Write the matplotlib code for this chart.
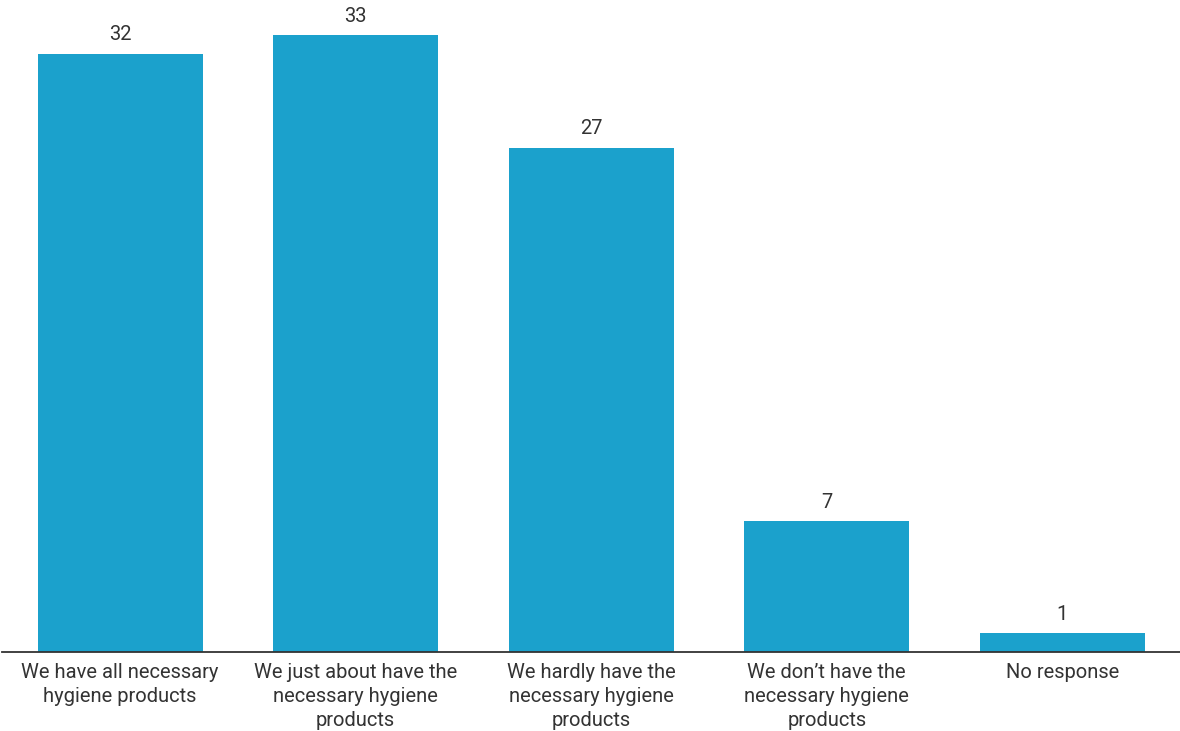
import matplotlib
matplotlib.use("Agg")
import matplotlib.pyplot as plt

plt.rcParams['font.family'] = ['Roboto', 'DejaVu Sans']

categories = [
    "We have all necessary\nhygiene products",
    "We just about have the\nnecessary hygiene\nproducts",
    "We hardly have the\nnecessary hygiene\nproducts",
    "We don\u2019t have the\nnecessary hygiene\nproducts",
    "No response",
]
values = [32, 33, 27, 7, 1]

bar_color = "#1ba1cc"
text_color = "#333333"

fig = plt.figure(figsize=(11.8, 7.31), dpi=100)
ax = fig.add_axes([0.002, 0.108, 0.998, 0.892])

x = range(len(values))
bars = ax.bar(x, values, width=0.7, color=bar_color)
for xi, v in zip(x, values):
    ax.annotate(str(v), (xi, v), xytext=(0, 7), textcoords="offset points",
                ha="center", va="bottom", fontsize=14.5, color=text_color)

ax.set_xlim(-0.5, len(values) - 0.5)
ax.set_ylim(0, 34.9)
ax.set_xticks(list(x))
ax.set_xticklabels(categories, fontsize=14.5, color=text_color, linespacing=1.32)
ax.tick_params(axis="x", length=0, pad=8)
ax.set_yticks([])
for s in ["top", "right", "left"]:
    ax.spines[s].set_visible(False)
ax.spines["bottom"].set_color(text_color)
ax.spines["bottom"].set_linewidth(1.3)

fig.savefig("out.png", dpi=100)
